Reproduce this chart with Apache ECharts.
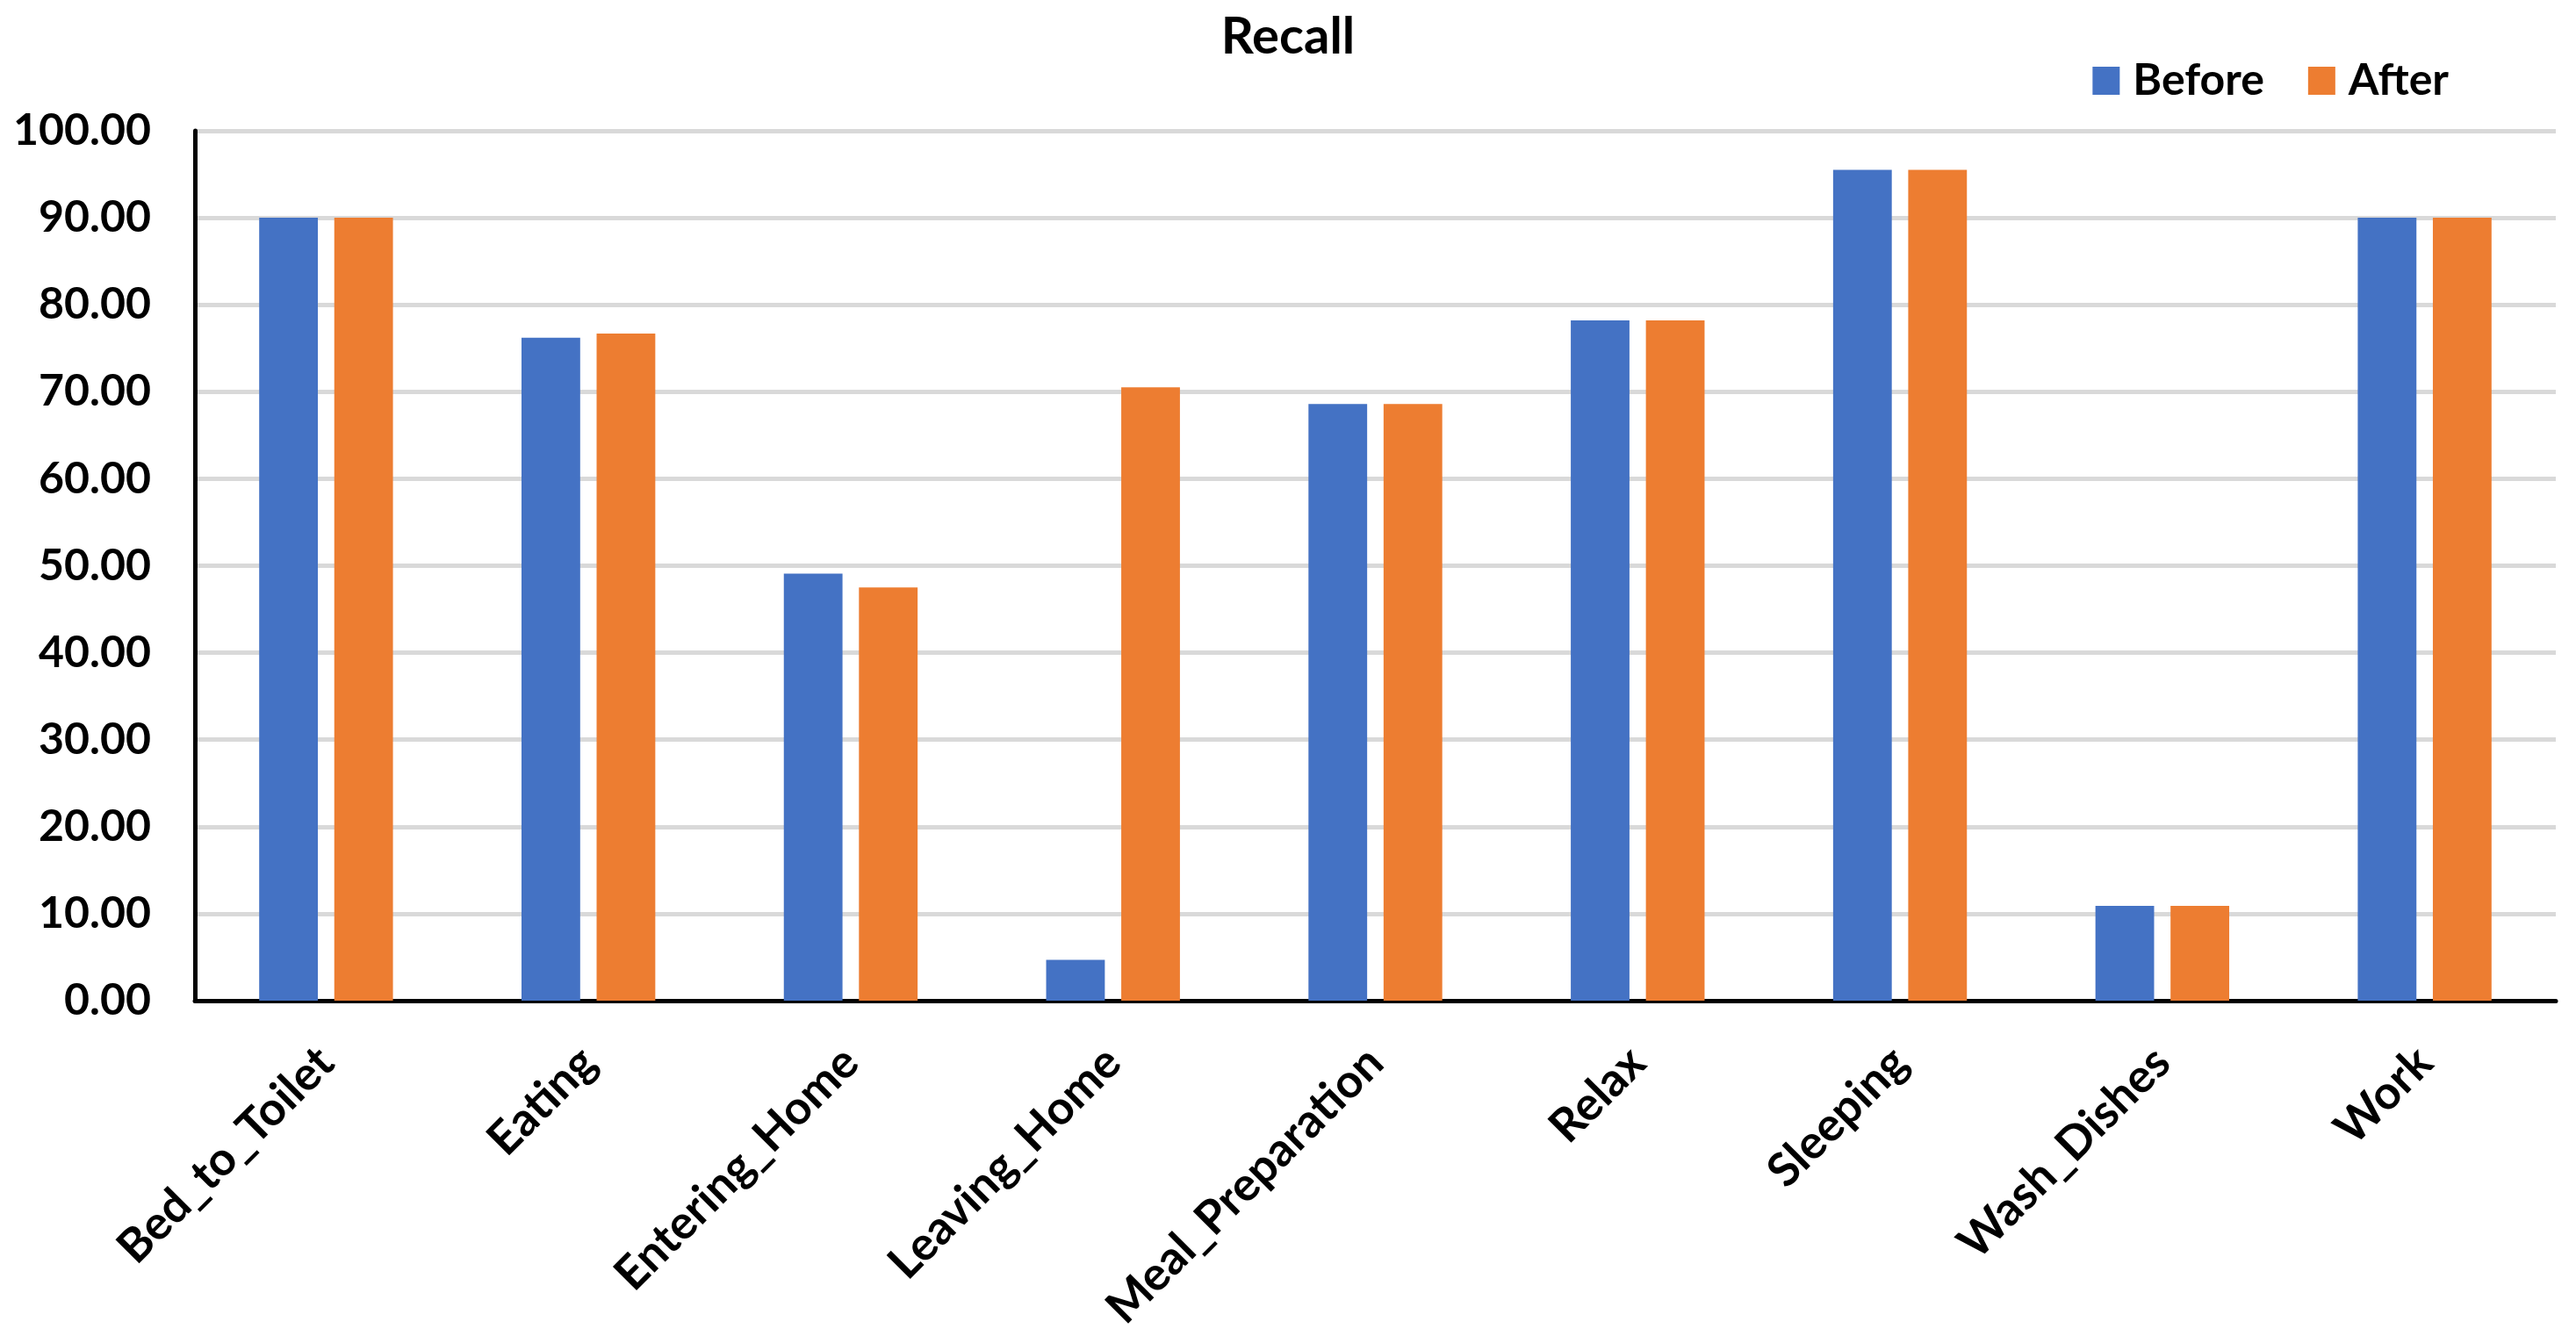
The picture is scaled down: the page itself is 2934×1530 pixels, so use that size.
<!DOCTYPE html>
<html>
<head>
<meta charset="utf-8">
<script src="https://cdn.jsdelivr.net/npm/echarts@6/dist/echarts.min.js"></script>
<style>
html,body{margin:0;padding:0;background:#fff;}
#chart{width:2934px;height:1530px;}
</style>
</head>
<body>
<div id="chart"></div>
<script>
const categories = ['Bed_to_Toilet','Eating','Entering_Home','Leaving_Home','Meal_Preparation','Relax','Sleeping','Wash_Dishes','Work'];
const beforeValues = [90.0, 76.2, 49.1, 4.7, 68.6, 78.2, 95.5, 10.9, 90.0];
const afterValues = [90.0, 76.7, 47.5, 70.5, 68.6, 78.2, 95.5, 10.9, 90.0];
const seriesNames = ['Before', 'After'];
const titleText = 'Recall';

const FONT = 'Lato';
const chart = echarts.init(document.getElementById('chart'));
chart.setOption({
  animation: false,
  backgroundColor: '#ffffff',
  title: {
    text: titleText,
    left: 'center',
    top: 8,
    textStyle: {fontFamily: FONT, fontWeight: 'bold', fontSize: 58, color: '#000'}
  },
  legend: {
    data: seriesNames,
    right: 140,
    top: 62,
    itemWidth: 31,
    itemHeight: 32,
    itemGap: 50,
    icon: 'rect',
    textStyle: {fontFamily: FONT, fontWeight: 'bold', fontSize: 50, color: '#000', padding: [0,0,0,10]}
  },
  grid: {left: 222, right: 23, top: 149, bottom: 390, containLabel: false},
  xAxis: {
    type: 'category',
    data: categories,
    axisLine: {lineStyle: {color: '#000', width: 5}},
    axisTick: {show: false},
    axisLabel: {
      rotate: 45,
      interval: 0,
      margin: 62,
      fontFamily: FONT, fontWeight: 'bold', fontSize: 53, color: '#000'
    }
  },
  yAxis: {
    type: 'value',
    min: 0, max: 100, interval: 10,
    axisLine: {show: true, lineStyle: {color: '#000', width: 5}},
    axisTick: {show: false},
    splitLine: {lineStyle: {color: '#D9D9D9', width: 5}},
    axisLabel: {
      margin: 50,
      formatter: v => v.toFixed(2),
      fontFamily: FONT, fontWeight: 'bold', fontSize: 50, color: '#000'
    }
  },
  series: [
    {name: seriesNames[0], type: 'bar', data: beforeValues, itemStyle: {color: '#4472C4'}, barGap: '28%', barCategoryGap: '49%'},
    {name: seriesNames[1], type: 'bar', data: afterValues, itemStyle: {color: '#ED7D31'}, barGap: '28%', barCategoryGap: '49%'}
  ]
});
</script>
</body>
</html>
